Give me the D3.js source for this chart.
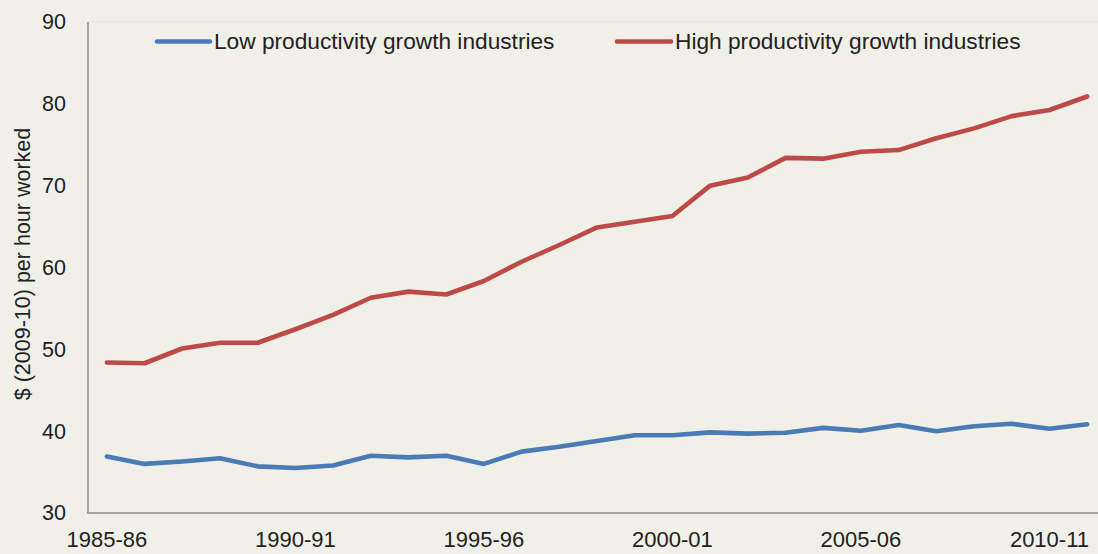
<!DOCTYPE html>
<html>
<head>
<meta charset="utf-8">
<script src="https://cdn.jsdelivr.net/npm/d3@7"></script>
<style>
  html, body { margin: 0; padding: 0; background: #f0f0e8; }
  svg { display: block; font-family: "Liberation Sans", Arial, sans-serif; }
</style>
</head>
<body>
<svg id="chart" width="1098" height="554"></svg>
<script>
// Financial years shown on the category axis
const years = [
  "1985-86","1986-87","1987-88","1988-89","1989-90","1990-91","1991-92",
  "1992-93","1993-94","1994-95","1995-96","1996-97","1997-98","1998-99",
  "1999-00","2000-01","2001-02","2002-03","2003-04","2004-05","2005-06",
  "2006-07","2007-08","2008-09","2009-10","2010-11","2011-12"
];

// Output per hour worked, $ (2009-10)
const lowGrowth = [
  36.9, 36.0, 36.3, 36.7, 35.7, 35.5, 35.8, 37.0, 36.8, 37.0, 36.0, 37.5, 38.1,
  38.8, 39.5, 39.5, 39.85, 39.7, 39.8, 40.4, 40.05, 40.75, 40.0, 40.6, 40.9, 40.3, 40.85
];
const highGrowth = [
  48.4, 48.3, 50.1, 50.8, 50.8, 52.45, 54.2, 56.3, 57.05, 56.7, 58.35, 60.7, 62.75,
  64.9, 65.6, 66.3, 70.0, 71.0, 73.4, 73.3, 74.15, 74.35, 75.8, 77.0, 78.5, 79.25, 80.9
];

const yTicks = [30, 40, 50, 60, 70, 80, 90];
const xTickLabels = ["1985-86", "1990-91", "1995-96", "2000-01", "2005-06", "2010-11"];

const seriesNames = ["Low productivity growth industries", "High productivity growth industries"];
const seriesColors = ["#4a7bb6", "#bd4a47"];

const svg = d3.select("#chart");
const W = 1098, H = 554;
const plot = { left: 88, right: 1106, top: 22, bottom: 513 };

// Category axis: each year occupies an equal band, point sits at the band centre
const x = d3.scaleBand().domain(years).range([plot.left, plot.right]).padding(0);
const xc = d => x(d) + x.bandwidth() / 2;
const y = d3.scaleLinear().domain([30, 90]).range([plot.bottom, plot.top]);

// Faint top boundary of the plot area
svg.append("line")
  .attr("x1", plot.left).attr("x2", W)
  .attr("y1", y(90)).attr("y2", y(90))
  .attr("stroke", "#e7e7df").attr("stroke-width", 1);

// Y axis (labels only, no tick marks)
const yAxis = svg.append("g")
  .attr("transform", `translate(${plot.left},0)`)
  .call(d3.axisLeft(y).tickValues(yTicks).tickSize(0).tickPadding(22));
yAxis.select(".domain").remove();
yAxis.selectAll("text")
  .attr("font-size", 21.5).attr("fill", "#222")
  .attr("font-family", "Liberation Sans, Arial, sans-serif");

// X axis (labels only)
const xAxis = svg.append("g")
  .attr("transform", `translate(0,${plot.bottom})`)
  .call(d3.axisBottom(x).tickValues(xTickLabels).tickSize(0).tickPadding(18));
xAxis.select(".domain").remove();
xAxis.selectAll("text")
  .attr("font-size", 22).attr("fill", "#222")
  .attr("font-family", "Liberation Sans, Arial, sans-serif");

// Axis lines
svg.append("line")
  .attr("x1", plot.left).attr("x2", plot.left)
  .attr("y1", plot.top).attr("y2", plot.bottom)
  .attr("stroke", "#8e8e8a").attr("stroke-width", 1.5);
svg.append("line")
  .attr("x1", plot.left - 0.75).attr("x2", W)
  .attr("y1", plot.bottom).attr("y2", plot.bottom)
  .attr("stroke", "#8e8e8a").attr("stroke-width", 1.5);

// Y axis title
svg.append("text")
  .attr("transform", `translate(22,264) rotate(-90)`)
  .attr("text-anchor", "middle")
  .attr("dy", "0.35em")
  .attr("font-size", 21.5).attr("fill", "#222")
  .text("$ (2009-10) per hour worked");

// Series lines
const line = d3.line()
  .x((d, i) => xc(years[i]))
  .y(d => y(d));

[lowGrowth, highGrowth].forEach((vals, i) => {
  svg.append("path")
    .datum(vals)
    .attr("d", line)
    .attr("fill", "none")
    .attr("stroke", seriesColors[i])
    .attr("stroke-width", 4.6)
    .attr("stroke-linejoin", "round")
    .attr("stroke-linecap", "round");
});

// Legend
const legendItems = [
  { x1: 157, x2: 210, tx: 214 },
  { x1: 617, x2: 671, tx: 675 }
];
const legendY = 41.5;
legendItems.forEach((it, i) => {
  svg.append("line")
    .attr("x1", it.x1).attr("x2", it.x2)
    .attr("y1", legendY).attr("y2", legendY)
    .attr("stroke", seriesColors[i]).attr("stroke-width", 4.6)
    .attr("stroke-linecap", "round");
  svg.append("text")
    .attr("x", it.tx).attr("y", legendY)
    .attr("dy", "0.35em")
    .attr("font-size", 22.7).attr("fill", "#222")
    .text(seriesNames[i]);
});
</script>
</body>
</html>
